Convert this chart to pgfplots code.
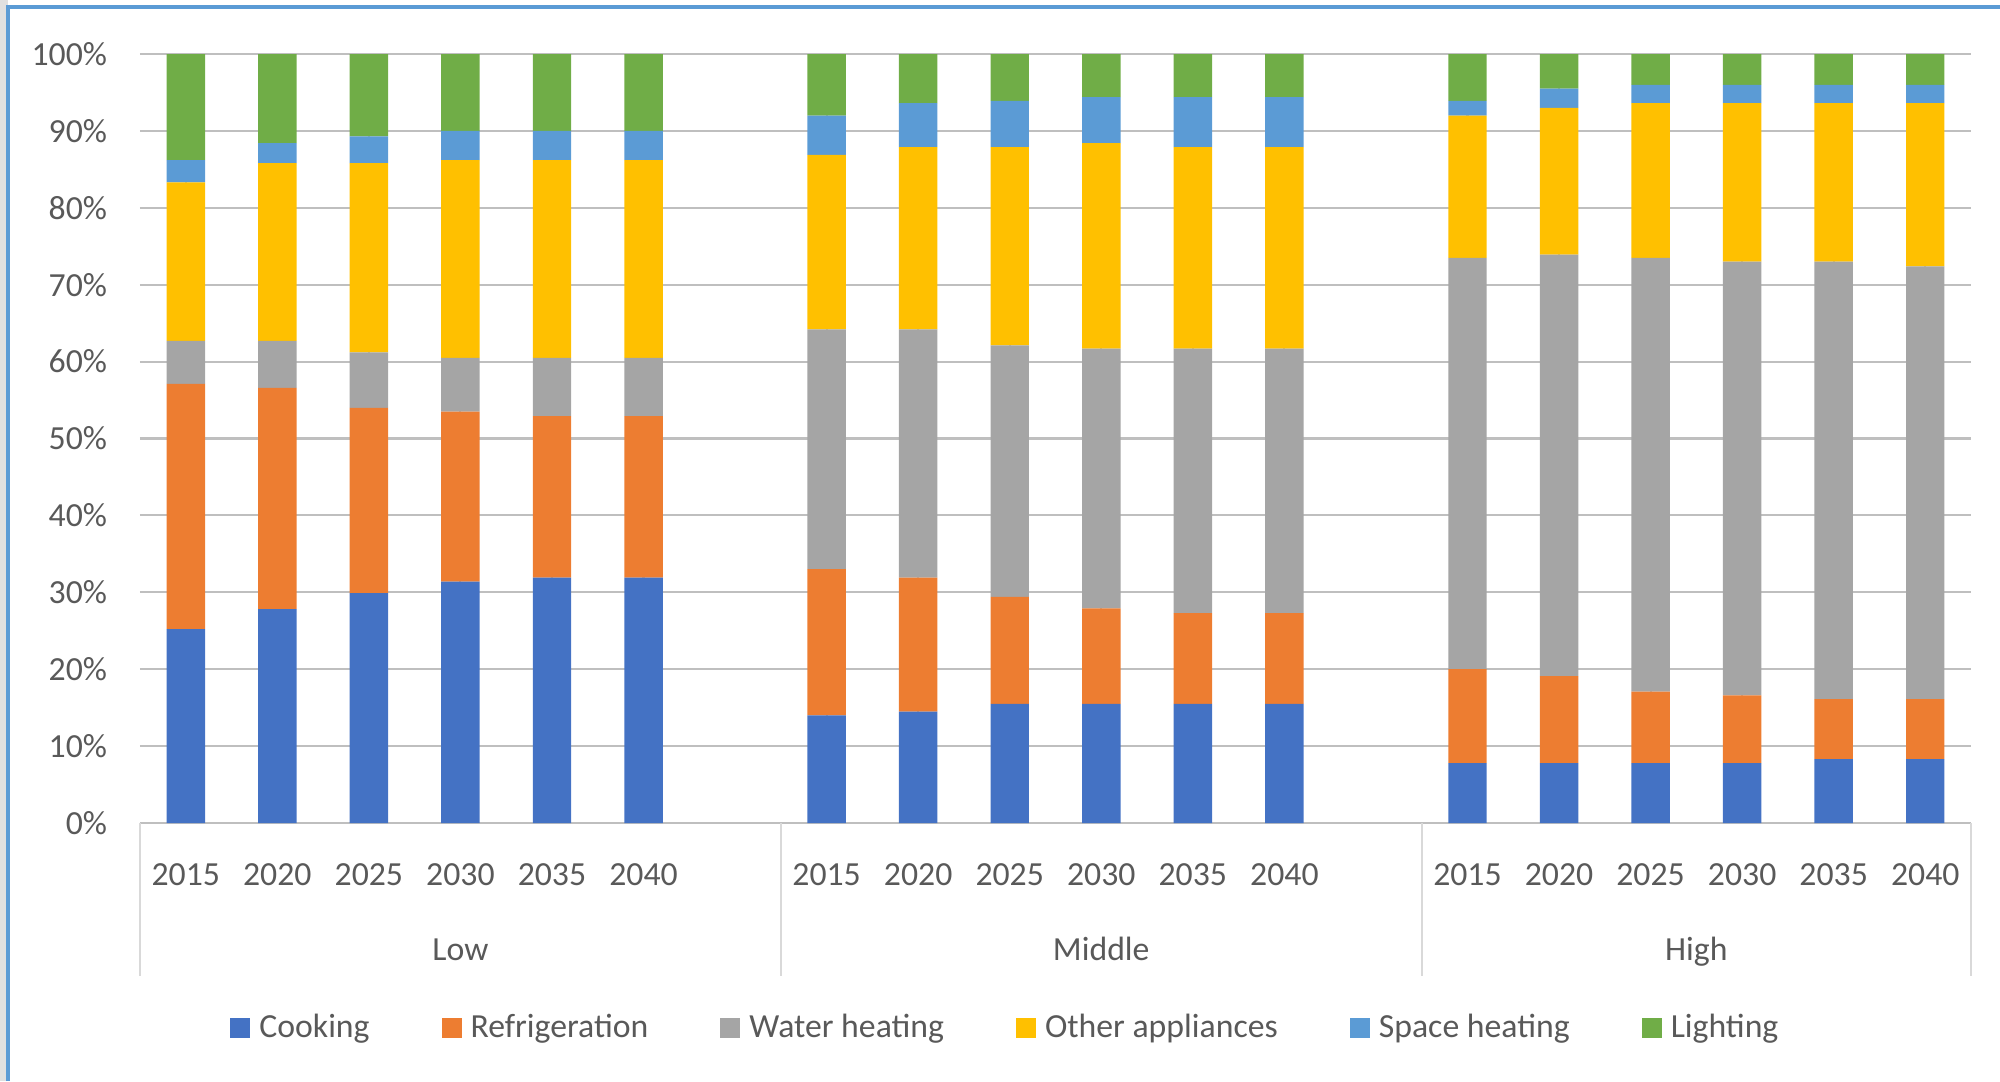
\documentclass[border=0pt]{standalone}
\usepackage{pgfplots}
\pgfplotsset{compat=1.18}
\usepackage{fontspec}
\setmainfont{Carlito}

\definecolor{cCook}{HTML}{4472C4}
\definecolor{cRefr}{HTML}{ED7D31}
\definecolor{cWater}{HTML}{A5A5A5}
\definecolor{cOther}{HTML}{FFC000}
\definecolor{cSpace}{HTML}{5B9BD5}
\definecolor{cLight}{HTML}{70AD47}
\definecolor{txt}{HTML}{595959}
\definecolor{grid}{HTML}{D9D9D9}
\definecolor{frame}{HTML}{5B9BD5}

% categories: 0-5 Low, 7-12 Middle, 14-19 High (6 and 13 are empty slots)
\pgfplotsset{
  sqleg/.style={legend image code/.code={\fill[##1] (0cm,-0.1cm) rectangle (0.2cm,0.1cm);}},
}

\begin{document}
\fontsize{9.6}{11.5}\selectfont
\begin{tikzpicture}
\useasboundingbox (0,0) rectangle (20cm,10.81cm);
\fill[black!12] (0,0) rectangle (0.08cm,10.81cm);
\draw[frame, line width=0.9pt] (0.08cm,0) -- (0.08cm,10.74cm) -- (20cm,10.74cm);

\begin{axis}[
    at={(1.40cm,2.58cm)}, anchor=south west,
    scale only axis,
    width=18.31cm, height=7.69cm,
    ybar stacked,
    bar width=0.42,
    xmin=-0.5, xmax=19.5,
    ymin=0, ymax=100,
    ytick={0,10,...,100},
    yticklabels={0\%,10\%,20\%,30\%,40\%,50\%,60\%,70\%,80\%,90\%,100\%},
    xtick={0,1,2,3,4,5,7,8,9,10,11,12,14,15,16,17,18,19},
    xticklabels={2015,2020,2025,2030,2035,2040,2015,2020,2025,2030,2035,2040,2015,2020,2025,2030,2035,2040},
    major tick length=0pt,
    axis line style={draw=none},
    ymajorgrids,
    grid style={grid, line width=0.6pt},
    tick label style={text=txt, font=\fontsize{9.6}{11.5}\selectfont},
    yticklabel style={xshift=-0.21cm},
    xticklabel style={yshift=-0.29cm},
    clip=false,
    legend columns=6,
    legend style={at={(0.474,-0.267)}, anchor=center, draw=none, fill=none,
      text=txt, font=\fontsize{9.6}{11.5}\selectfont,
      /tikz/every odd column/.append style={column sep=0.02cm},
      /tikz/every even column/.append style={column sep=0.65cm}},
  ]
  \addplot[fill=cCook, draw=none, sqleg] coordinates {
    (0,25.2) (1,27.8) (2,29.9) (3,31.4) (4,31.9) (5,31.9)
    (7,14.0) (8,14.5) (9,15.5) (10,15.5) (11,15.5) (12,15.5)
    (14,7.8) (15,7.8) (16,7.8) (17,7.8) (18,8.3) (19,8.3)};
  \addplot[fill=cRefr, draw=none, sqleg] coordinates {
    (0,31.9) (1,28.8) (2,24.1) (3,22.1) (4,21.0) (5,21.0)
    (7,19.0) (8,17.4) (9,13.9) (10,12.4) (11,11.8) (12,11.8)
    (14,12.2) (15,11.3) (16,9.3) (17,8.8) (18,7.8) (19,7.8)};
  \addplot[fill=cWater, draw=none, sqleg] coordinates {
    (0,5.6) (1,6.1) (2,7.2) (3,7.0) (4,7.6) (5,7.6)
    (7,31.2) (8,32.3) (9,32.7) (10,33.8) (11,34.4) (12,34.4)
    (14,53.5) (15,54.8) (16,56.4) (17,56.4) (18,56.9) (19,56.3)};
  \addplot[fill=cOther, draw=none, sqleg] coordinates {
    (0,20.6) (1,23.1) (2,24.6) (3,25.7) (4,25.7) (5,25.7)
    (7,22.7) (8,23.7) (9,25.8) (10,26.7) (11,26.2) (12,26.2)
    (14,18.5) (15,19.1) (16,20.1) (17,20.6) (18,20.6) (19,21.2)};
  \addplot[fill=cSpace, draw=none, sqleg] coordinates {
    (0,2.9) (1,2.6) (2,3.5) (3,3.8) (4,3.8) (5,3.8)
    (7,5.1) (8,5.7) (9,6.0) (10,6.0) (11,6.5) (12,6.5)
    (14,1.9) (15,2.5) (16,2.4) (17,2.4) (18,2.4) (19,2.4)};
  \addplot[fill=cLight, draw=none, sqleg] coordinates {
    (0,13.8) (1,11.6) (2,10.7) (3,10.0) (4,10.0) (5,10.0)
    (7,8.0) (8,6.4) (9,6.1) (10,5.6) (11,5.6) (12,5.6)
    (14,6.1) (15,4.5) (16,4.0) (17,4.0) (18,4.0) (19,4.0)};
  \legend{Cooking, Refrigeration, Water heating, Other appliances, Space heating, Lighting}

  % group separators and group names
  \pgfplotsinvokeforeach{-0.5,6.5,13.5,19.5}{
    \draw[grid, line width=0.6pt] (axis cs:#1,0) -- ([yshift=-1.53cm]axis cs:#1,0);
  }
  \node[text=txt, anchor=base] at ([yshift=-1.37cm]axis cs:3,0) {Low};
  \node[text=txt, anchor=base] at ([yshift=-1.37cm]axis cs:10,0) {Middle};
  \node[text=txt, anchor=base] at ([yshift=-1.37cm]axis cs:16.5,0) {High};
\end{axis}
\end{tikzpicture}
\end{document}
